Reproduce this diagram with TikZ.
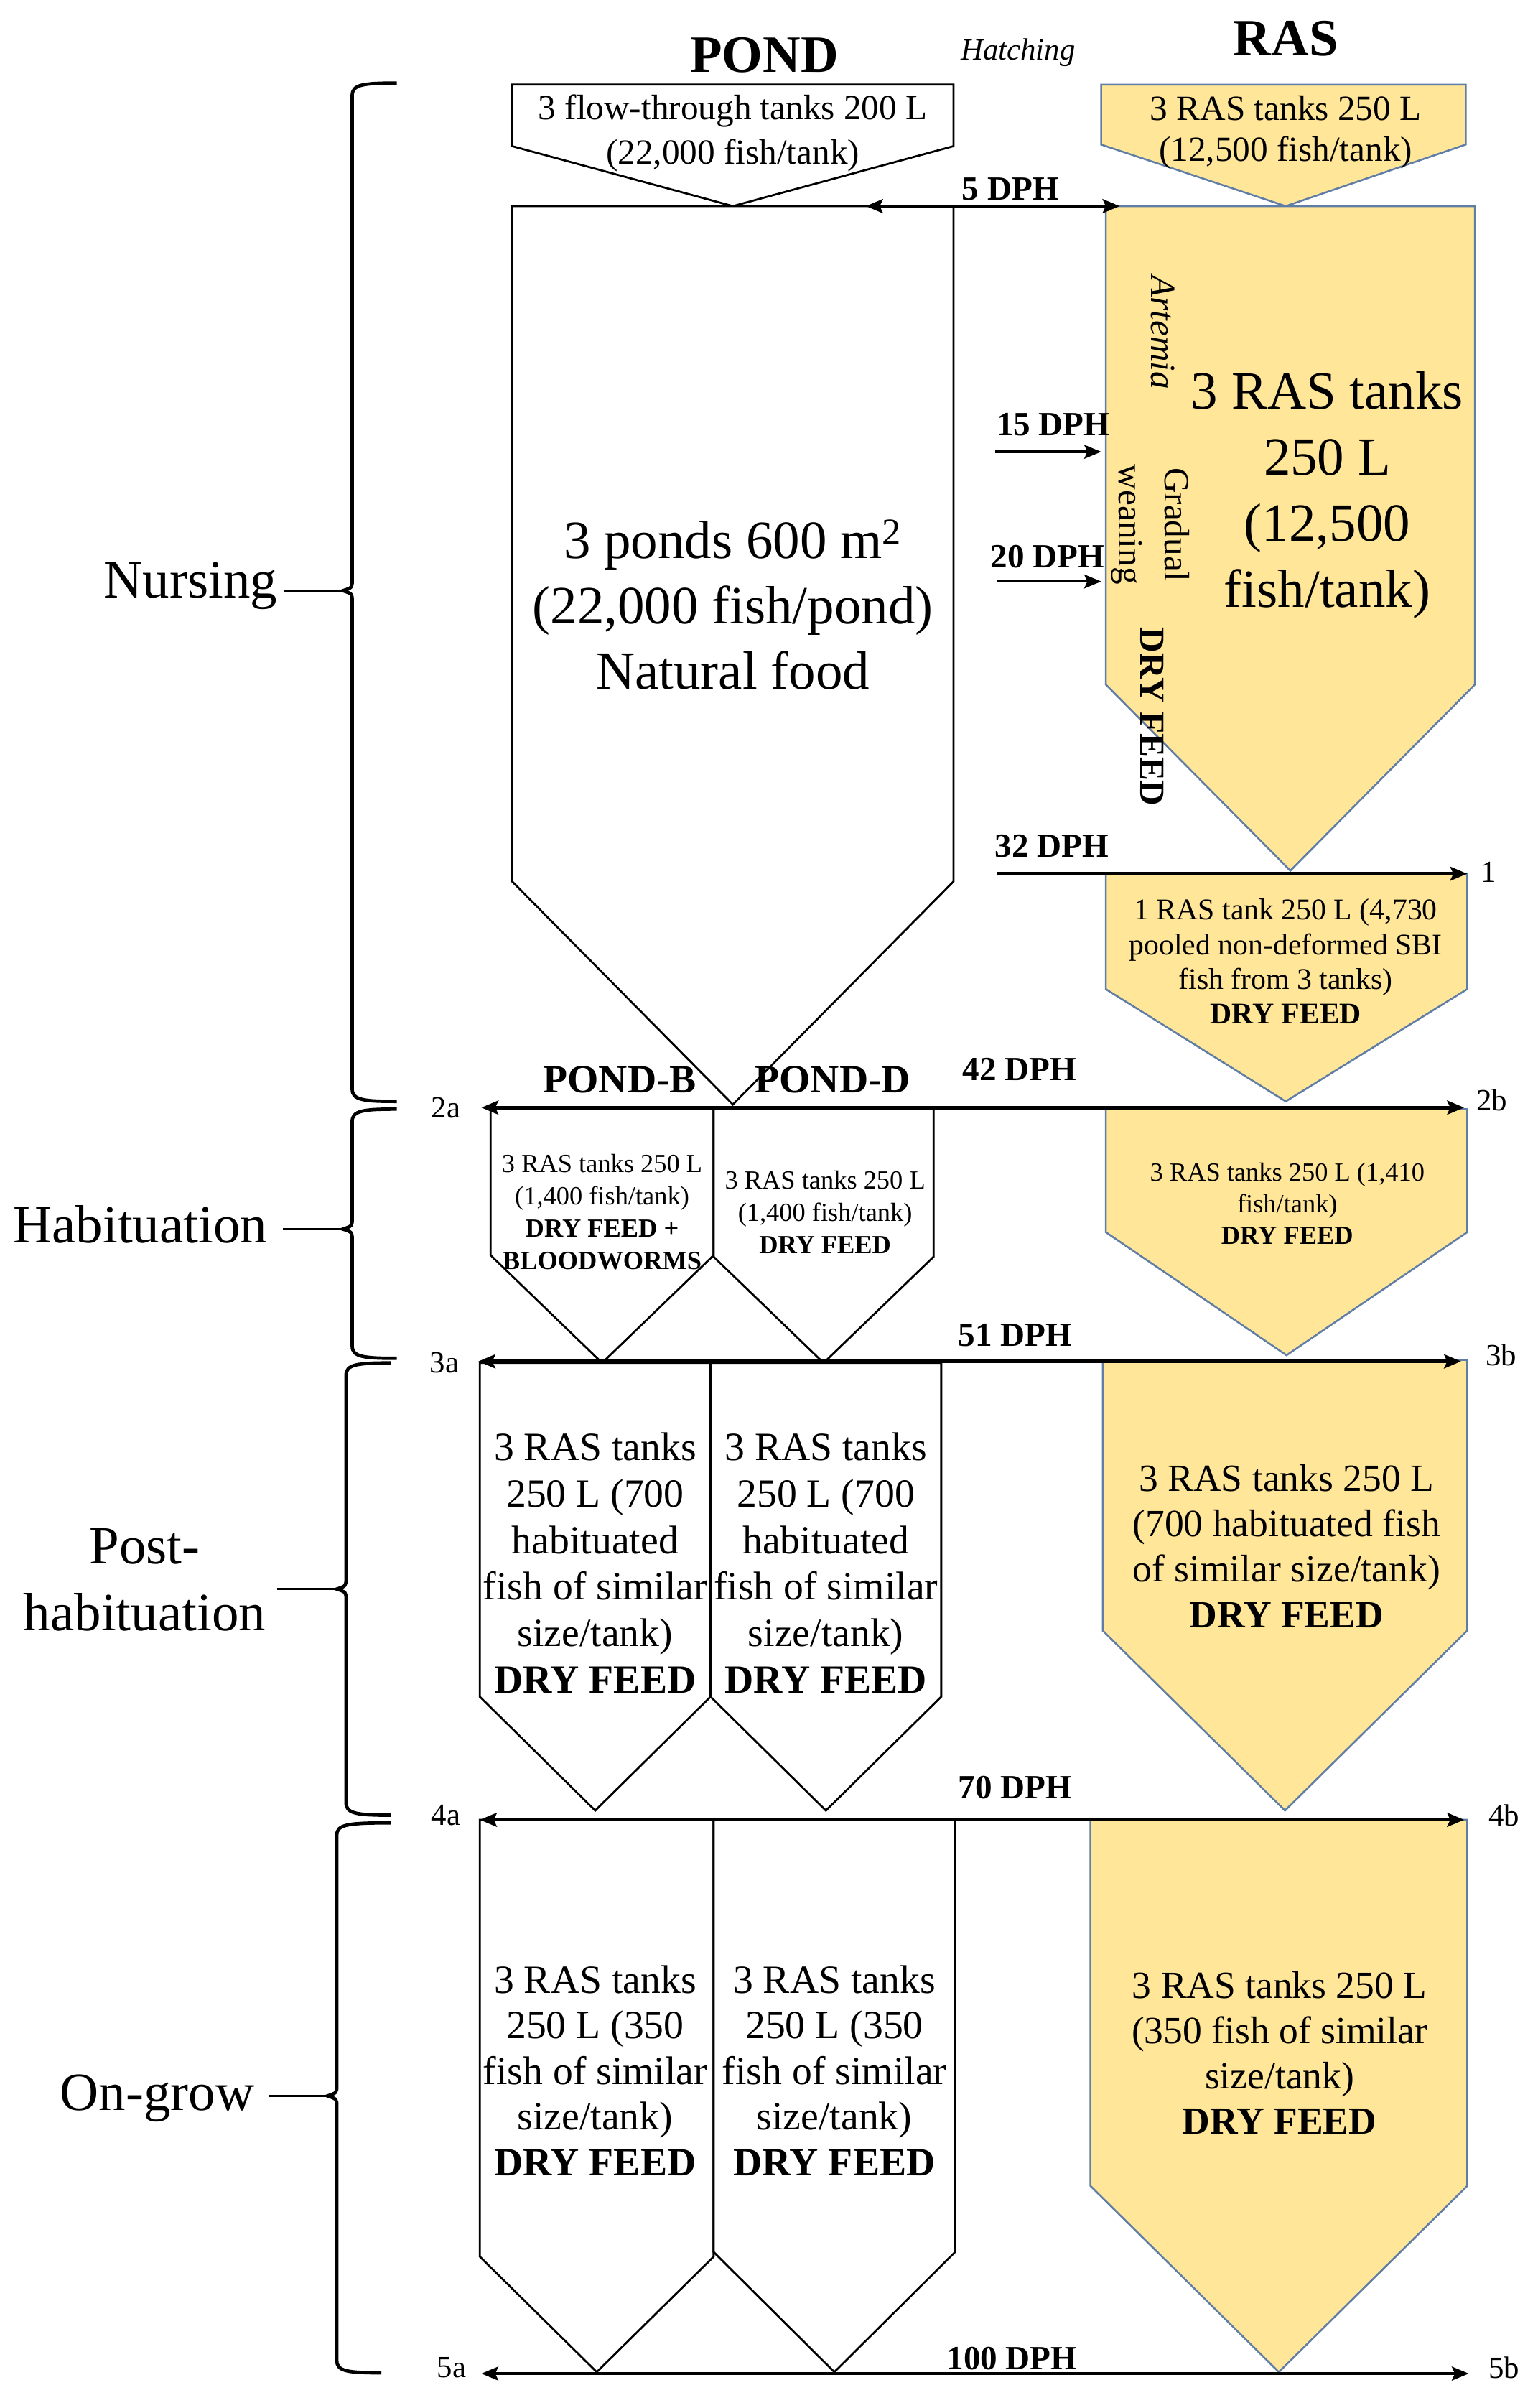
\documentclass[tikz,border=0pt]{standalone}
\usepackage{fontspec}
\setmainfont{Liberation Serif}
\usetikzlibrary{arrows.meta}
\definecolor{rasfill}{RGB}{255,230,153}
\definecolor{rasline}{RGB}{95,125,165}
\newcommand{\pentbox}[7]{\draw[#1] (#2,#4) -- (#3,#4) -- (#3,#5) -- (#6,#7) -- (#2,#5) -- cycle;}
\newcommand{\phasebrace}[6]{\draw[brace] (#5,#2) .. controls (#1+7,#2) and (#1,#2+1) .. (#1,#2+8) -- (#1,#3-7) .. controls (#1,#3-2) .. (#1-6,#3) .. controls (#1,#3+2) .. (#1,#3+7) -- (#1,#4-8) .. controls (#1,#4-1) and (#1+7,#4) .. (#6,#4);}
\begin{document}
\begin{tikzpicture}[x=1pt,y=-1pt,
 >={Stealth[length=11pt,width=9pt,inset=2pt]},
 pondbox/.style={draw=black,line width=1.3pt,fill=white},
 rasbox/.style={draw=rasline,line width=1.2pt,fill=rasfill},
 dphline/.style={line width=2.3pt},
 smallarrow/.style={line width=1.6pt,->},
 dphlab/.style={font=\bfseries\fontsize{22}{26}\selectfont,inner sep=0pt},
 ptlab/.style={font=\fontsize{20}{24}\selectfont,inner sep=0pt},
 phase/.style={font=\fontsize{35}{43}\selectfont,inner sep=0pt,align=center},
 brace/.style={line width=2.2pt},
 txt/.style={align=center,inner sep=0pt},
 vtxt/.style={rotate=-90,inner sep=0pt,align=center}
]
\useasboundingbox (0,0) rectangle (1000,1565.4);

% titles
\node[font=\bfseries\fontsize{34}{40}\selectfont] (pondt) at (497,36) {POND};
\node[font=\itshape\fontsize{20}{24}\selectfont] (hatch) at (662,34) {Hatching};
\node[font=\bfseries\fontsize{34}{40}\selectfont] (rast) at (836,25) {RAS};

% nursing boxes
\pentbox{pondbox}{333}{620}{55}{95}{476.5}{134}
\node[txt,font=\fontsize{23}{29}\selectfont] (ft) at (476.5,86.5) {3 flow-through tanks 200 L\\(22,000 fish/tank)};
\pentbox{rasbox}{716}{953}{55}{94}{836}{134}
\node[txt,font=\fontsize{23}{27}\selectfont] (rt) at (836,86) {3 RAS tanks 250 L\\(12,500 fish/tank)};

\pentbox{pondbox}{333}{620}{134}{573}{476.5}{718}
\node[txt,font=\fontsize{35}{42.5}\selectfont] (ponds) at (476.5,393) {3 ponds 600 m\textsuperscript{2}\\(22,000 fish/pond)\\Natural food};

\pentbox{rasbox}{719}{959}{134}{445}{839}{566}
\node[txt,font=\fontsize{35}{43}\selectfont] (rasn) at (863,322) {3 RAS tanks\\250 L\\(12,500\\fish/tank)};
\node[vtxt,font=\itshape\fontsize{23}{28}\selectfont] (art) at (756,216) {Artemia};
\node[vtxt,font=\fontsize{23}{30}\selectfont] (wean) at (748,341) {Gradual\\weaning};
\node[vtxt,font=\bfseries\fontsize{23}{28}\selectfont] (dfv) at (749,466) {DRY FEED};

\pentbox{rasbox}{719}{954}{568}{643}{836}{716}
\node[txt,font=\fontsize{19.5}{22.5}\selectfont] (r1) at (836,625) {1 RAS tank 250 L (4,730\\pooled non-deformed SBI\\fish from 3 tanks)\\\textbf{DRY FEED}};

% habituation boxes
\pentbox{pondbox}{319}{464}{720}{816}{391.5}{886}
\pentbox{pondbox}{464}{607}{720}{817}{535.5}{886}
\pentbox{rasbox}{719}{954}{721}{801}{836.5}{881}
\node[txt,font=\fontsize{17}{21}\selectfont] (hb) at (391.5,788) {3 RAS tanks 250 L\\(1,400 fish/tank)\\\textbf{DRY FEED +}\\\textbf{BLOODWORMS}};
\node[txt,font=\fontsize{17}{21}\selectfont] (hd) at (536.5,788) {3 RAS tanks 250 L\\(1,400 fish/tank)\\\textbf{DRY FEED}};
\node[txt,font=\fontsize{17}{20.5}\selectfont] (hr) at (837,782.5) {3 RAS tanks 250 L (1,410\\fish/tank)\\\textbf{DRY FEED}};
\node[font=\bfseries\fontsize{26}{30}\selectfont,inner sep=0pt] (pb) at (403,702) {POND-B};
\node[font=\bfseries\fontsize{26}{30}\selectfont,inner sep=0pt] (pd) at (541.5,702) {POND-D};

% post-habituation boxes
\pentbox{pondbox}{312}{462}{886}{1103}{387}{1177}
\pentbox{pondbox}{462}{612}{886}{1103}{537}{1177}
\pentbox{rasbox}{717}{954}{884}{1060}{835.5}{1177}
\node[txt,font=\fontsize{26}{30.2}\selectfont] (phb) at (387,1016) {3 RAS tanks\\250 L (700\\habituated\\fish of similar\\size/tank)\\\textbf{DRY FEED}};
\node[txt,font=\fontsize{26}{30.2}\selectfont] (phd) at (537,1016) {3 RAS tanks\\250 L (700\\habituated\\fish of similar\\size/tank)\\\textbf{DRY FEED}};
\node[txt,font=\fontsize{25}{29.6}\selectfont] (phr) at (836.5,1005) {3 RAS tanks 250 L\\(700 habituated fish\\of similar size/tank)\\\textbf{DRY FEED}};

% on-grow boxes
\pentbox{pondbox}{312}{464}{1183}{1467}{388}{1542}
\pentbox{pondbox}{464}{621}{1183}{1464}{542.5}{1542}
\pentbox{rasbox}{709}{954}{1183}{1421}{831.5}{1542}
\node[txt,font=\fontsize{26}{29.7}\selectfont] (ogb) at (387,1346) {3 RAS tanks\\250 L (350\\fish of similar\\size/tank)\\\textbf{DRY FEED}};
\node[txt,font=\fontsize{26}{29.7}\selectfont] (ogd) at (542.5,1346) {3 RAS tanks\\250 L (350\\fish of similar\\size/tank)\\\textbf{DRY FEED}};
\node[txt,font=\fontsize{25}{29.3}\selectfont] (ogr) at (832,1334.5) {3 RAS tanks 250 L\\(350 fish of similar\\size/tank)\\\textbf{DRY FEED}};

% DPH arrows
\coordinate (d5a) at (563,134); \coordinate (d5b) at (728,134);
\draw[dphline,<->] (d5a) -- (d5b);
\node[dphlab] (l5) at (657,123) {5 DPH};

\coordinate (d15a) at (647,293.7); \coordinate (d15b) at (716,293.7);
\draw[smallarrow] (d15a) -- (d15b);
\node[dphlab] (l15) at (685,276) {15 DPH};

\coordinate (d20a) at (648,378); \coordinate (d20b) at (716,378);
\draw[smallarrow] (d20a) -- (d20b);
\node[dphlab] (l20) at (681,362) {20 DPH};

\coordinate (d32a) at (648,568); \coordinate (d32b) at (954,568);
\draw[dphline,->] (d32a) -- (d32b);
\node[dphlab] (l32) at (684,550) {32 DPH};
\node[ptlab] (p1) at (968,567) {1};

\coordinate (d42a) at (313,720); \coordinate (d42b) at (952,720);
\draw[dphline,<->] (d42a) -- (d42b);
\node[dphlab] (l42) at (663,695) {42 DPH};
\node[ptlab] (p2a) at (290,720) {2a};
\node[ptlab] (p2b) at (970,715) {2b};

\coordinate (d51a) at (311,885); \coordinate (d51b) at (950,885);
\draw[dphline,<->] (d51a) -- (d51b);
\node[dphlab] (l51) at (660,868) {51 DPH};
\node[ptlab] (p3a) at (289,886) {3a};
\node[ptlab] (p3b) at (976,881) {3b};

\coordinate (d70a) at (312,1183); \coordinate (d70b) at (952,1183);
\draw[dphline,<->] (d70a) -- (d70b);
\node[dphlab] (l70) at (660,1162) {70 DPH};
\node[ptlab] (p4a) at (290,1180) {4a};
\node[ptlab] (p4b) at (978,1180) {4b};

\coordinate (d100a) at (313,1543); \coordinate (d100b) at (955,1543);
\draw[line width=1.6pt,<->] (d100a) -- (d100b);
\node[dphlab] (l100) at (658,1533) {100 DPH};
\node[ptlab] (p5a) at (293.6,1539) {5a};
\node[ptlab] (p5b) at (978,1539) {5b};

% phase braces
\phasebrace{229}{54}{384}{716}{258}{258}
\coordinate (tipn) at (223,384);
\node[phase,anchor=east] (nurs) at (180.5,381) {Nursing};
\draw[line width=1.2pt] (nurs.east |- tipn) ++(4.5,0) -- (tipn);

\phasebrace{229}{721}{799}{883}{258}{258}
\coordinate (tiph) at (223,799);
\node[phase,anchor=east] (habi) at (174,796) {Habituation};
\draw[line width=1.2pt] (habi.east |- tiph) ++(10,0) -- (tiph);

\phasebrace{225}{886}{1033}{1180}{254}{254}
\coordinate (tipp) at (219,1033);
\node[phase,anchor=east] (posth) at (173,1027) {Post-\\habituation};
\draw[line width=1.2pt] (posth.east |- tipp) ++(7,0) -- (tipp);

\phasebrace{219}{1185}{1362.5}{1542.5}{254}{248}
\coordinate (tipo) at (213,1362.5);
\node[phase,anchor=east] (ongr) at (165.7,1364) {On-grow};
\draw[line width=1.2pt] (ongr.east |- tipo) ++(9,0) -- (tipo);
\end{tikzpicture}
\end{document}
